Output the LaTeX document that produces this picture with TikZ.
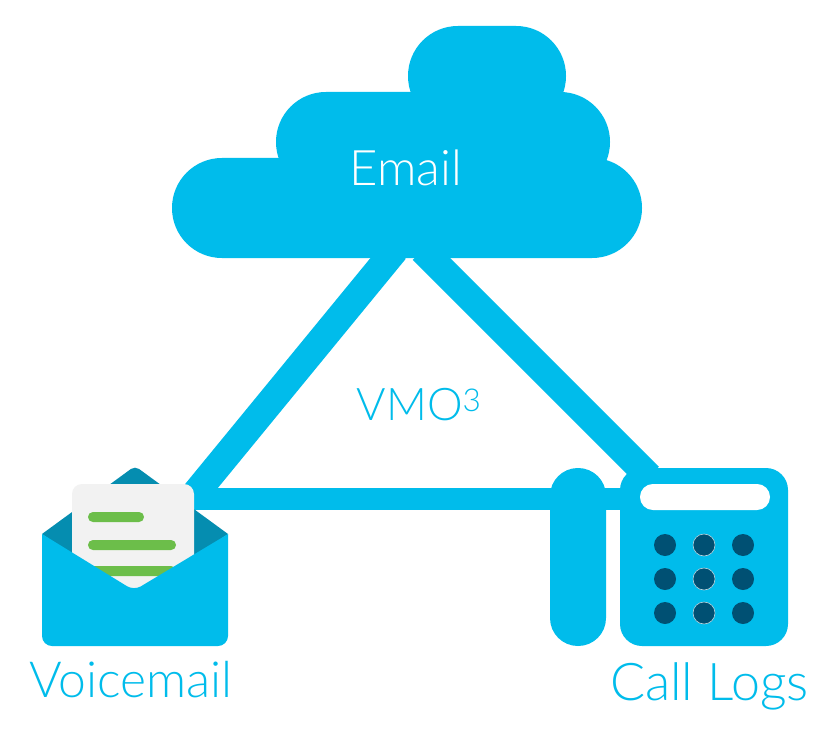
\documentclass[tikz,border=0pt]{standalone}
\usepackage{fontspec}
\setmainfont{Lato}[UprightFont=* Light]
\definecolor{ciscoblue}{HTML}{00BCEB}
\definecolor{flapblue}{HTML}{058DB0}
\definecolor{paper}{HTML}{F2F2F2}
\definecolor{barlime}{HTML}{6CBE4A}
\definecolor{keydark}{HTML}{005073}
\tikzset{
  link/.style={draw=ciscoblue,line cap=butt},
  diag/.style={link,line width=27.8pt},
  flat/.style={link,line width=22pt},
  lobe/.style={fill=ciscoblue,rounded corners=49.9pt},
  bar/.style={fill=barlime,rounded corners=4.9pt},
  keybtn/.style={circle,fill=keydark,minimum size=22pt,inner sep=0pt},
  keyring/.style={keybtn,draw=white!75!keydark,line width=.6pt},
  bluelabel/.style={text=ciscoblue,inner sep=0pt,font=\fontsize{50}{50}\selectfont},
  whitelabel/.style={bluelabel,text=white,font=\fontsize{49}{49}\selectfont}
}
\begin{document}
\begin{tikzpicture}[x=1pt,y=-1pt]
\useasboundingbox (0,0) rectangle (826,738);
\fill[white] (0,0) rectangle (826,738);
% anchors of the connectors
\coordinate (cloudL) at (395,250);
\coordinate (cloudR) at (422.5,250);
\coordinate (mailD) at (190,500);
\coordinate (mailH) at (190,499);
\coordinate (phoneD) at (649,476.5);
\coordinate (phoneH) at (630,499);
% connectors
\draw[diag] (cloudL) -- (mailD);
\draw[diag] (cloudR) -- (phoneD);
\draw[flat] (mailH) -- (phoneH);
% cloud
\fill[lobe] (408,26) rectangle (566,126);
\fill[lobe] (276,92) rectangle (610,192);
\fill[lobe] (172,158) rectangle (642,258);
\node[whitelabel] (email) at (406,168) {Email};
% triangle label
\node[bluelabel,font=\fontsize{45}{45}\selectfont] (vmo) at (419,405) {VMO\textsuperscript{3}};
% envelope
\fill[flapblue] (42,534) [rounded corners=5pt] -- (135,466) [sharp corners] -- (228,534) -- (135,600) -- cycle;
\fill[paper,rounded corners=10pt] (72,484) rectangle (194,600);
\fill[bar] (88,512) rectangle (144,522);
\fill[bar] (88,540) rectangle (176,550);
\fill[bar] (88,566) rectangle (176,576);
\fill[ciscoblue] (42,534) [rounded corners=10pt] -- (42,646) -- (228,646) [sharp corners] -- (228,534) [rounded corners=8pt] -- (134,590.5) [sharp corners] -- cycle;
\node[bluelabel,font=\fontsize{49.8}{49.8}\selectfont] (voicemail) at (131,680) {Voicemail};
% telephone
\fill[ciscoblue,rounded corners=27.9pt] (550,468) rectangle (606,646);
\fill[ciscoblue,rounded corners=22pt] (620,468) rectangle (788,646);
\fill[white,rounded corners=12.9pt] (640,484) rectangle (770,510);
\foreach \r/\y in {a/545,b/579,c/613}{
  \node[keybtn] (k1\r) at (665,\y) {};
  \node[keyring] (k2\r) at (704,\y) {};
  \node[keybtn] (k3\r) at (743,\y) {};
}
\node[bluelabel,font=\fontsize{52}{52}\selectfont] (calllogs) at (709.5,686) {Call Logs};
\end{tikzpicture}
\end{document}
